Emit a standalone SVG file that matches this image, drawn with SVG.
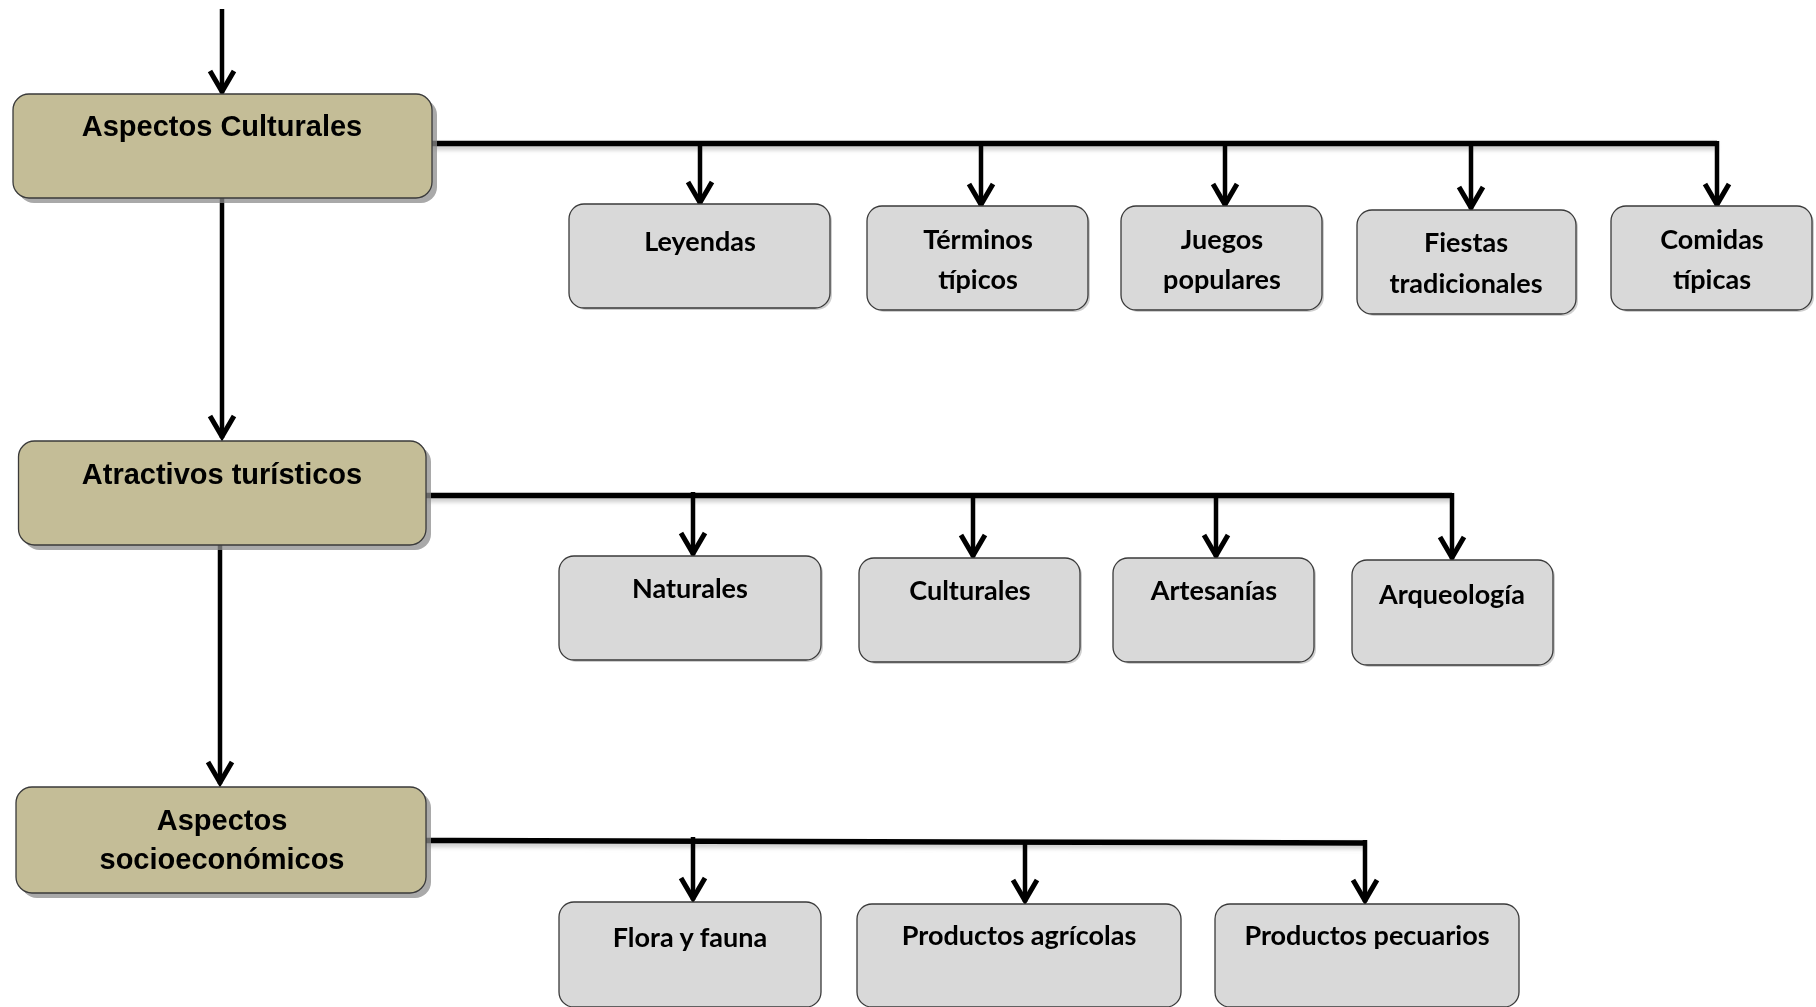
<svg xmlns="http://www.w3.org/2000/svg" width="1816" height="1007" viewBox="0 0 1816 1007">
<style>
.main{fill:#C4BD97;stroke:#3a3a3a;stroke-width:1.3}
.sub{fill:#D9D9D9;stroke:#3a3a3a;stroke-width:1.3}
.shadow{fill:#8c8c8c;opacity:0.75}
.sshadow{fill:#a0a0a0;opacity:0.5}
.ht{font-family:"Liberation Sans",Arial,sans-serif;font-weight:bold;font-size:29px;fill:#000;text-anchor:middle}
.st{font-family:Lato,"Open Sans",sans-serif;font-weight:bold;font-size:27px;fill:#000;text-anchor:middle}
.bus{fill:none;stroke:#000;stroke-width:5.5}
.drop{fill:none;stroke:#000;stroke-width:4.5}
.busShadow{fill:none;stroke:#9a9a9a;stroke-width:6;opacity:0.5}
</style>
<defs>
<marker id="arr" markerUnits="userSpaceOnUse" markerWidth="34" markerHeight="34" viewBox="-28 -17 34 34" refX="0" refY="0" orient="auto">
<path d="M-22,-12 L-1.5,0 L-22,12" fill="none" stroke="#000" stroke-width="5" stroke-linejoin="miter"/>
</marker>
<filter id="blur" x="-5%" y="-20%" width="110%" height="140%"><feGaussianBlur stdDeviation="2"/></filter>
</defs>

<g id="connectors">
<g filter="url(#blur)">
<path class="busShadow" d="M432,147 H1717"/>
<path class="busShadow" d="M426,499 H1452"/>
<path class="busShadow" d="M426,844 L1365,846"/>
</g>
<path class="drop" d="M222,9 V93" marker-end="url(#arr)"/>
<path class="drop" d="M222,198 V438" marker-end="url(#arr)"/>
<path class="drop" d="M220,545 V784" marker-end="url(#arr)"/>
<path class="bus" d="M432,143.5 H1717"/>
<path class="drop" d="M700,143 V204" marker-end="url(#arr)"/>
<path class="drop" d="M981,143 V206" marker-end="url(#arr)"/>
<path class="drop" d="M1225,143 V206" marker-end="url(#arr)"/>
<path class="drop" d="M1471,143 V209" marker-end="url(#arr)"/>
<path class="drop" d="M1717,141 V206" marker-end="url(#arr)"/>
<path class="bus" d="M426,495.5 H1452"/>
<path class="drop" d="M693,492 V555" marker-end="url(#arr)"/>
<path class="drop" d="M973,495 V557" marker-end="url(#arr)"/>
<path class="drop" d="M1216,495 V557" marker-end="url(#arr)"/>
<path class="drop" d="M1452,493 V559" marker-end="url(#arr)"/>
<path class="bus" d="M426,840.5 L1365,843"/>
<path class="drop" d="M693,837 V900" marker-end="url(#arr)"/>
<path class="drop" d="M1025,842 V902" marker-end="url(#arr)"/>
<path class="drop" d="M1365,840 V902" marker-end="url(#arr)"/>
</g>

<g id="aspectos-culturales">
<rect class="shadow" x="18" y="99" width="419" height="104" rx="16"/>
<rect class="main" x="13" y="94" width="419" height="104" rx="16"/>
<text class="ht" x="222" y="136">Aspectos Culturales</text>
</g>

<g id="atractivos-turisticos">
<rect class="shadow" x="23.5" y="446" width="407.5" height="104" rx="16"/>
<rect class="main" x="18.5" y="441" width="407.5" height="104" rx="16"/>
<text class="ht" x="222" y="484">Atractivos turísticos</text>
</g>

<g id="aspectos-socioeconomicos">
<rect class="shadow" x="21" y="792" width="410" height="106" rx="16"/>
<rect class="main" x="16" y="787" width="410" height="106" rx="16"/>
<text class="ht" x="222" y="830">Aspectos</text>
<text class="ht" x="222" y="869">socioeconómicos</text>
</g>

<g id="leyendas">
<rect class="sshadow" x="571" y="206" width="261" height="104" rx="15"/>
<rect class="sub" x="569" y="204" width="261" height="104" rx="15"/>
<text class="st" x="700" y="251">Leyendas</text>
</g>
<g id="terminos-tipicos">
<rect class="sshadow" x="869" y="208" width="221" height="104" rx="15"/>
<rect class="sub" x="867" y="206" width="221" height="104" rx="15"/>
<text class="st" x="978" y="249">Términos</text>
<text class="st" x="978" y="289">típicos</text>
</g>
<g id="juegos-populares">
<rect class="sshadow" x="1123" y="208" width="201" height="104" rx="15"/>
<rect class="sub" x="1121" y="206" width="201" height="104" rx="15"/>
<text class="st" x="1222" y="249">Juegos</text>
<text class="st" x="1222" y="289">populares</text>
</g>
<g id="fiestas-tradicionales">
<rect class="sshadow" x="1359" y="212" width="219" height="104" rx="15"/>
<rect class="sub" x="1357" y="210" width="219" height="104" rx="15"/>
<text class="st" x="1466" y="252">Fiestas</text>
<text class="st" x="1466" y="293">tradicionales</text>
</g>
<g id="comidas-tipicas">
<rect class="sshadow" x="1613" y="208" width="201" height="104" rx="15"/>
<rect class="sub" x="1611" y="206" width="201" height="104" rx="15"/>
<text class="st" x="1712" y="249">Comidas</text>
<text class="st" x="1712" y="289">típicas</text>
</g>

<g id="naturales">
<rect class="sshadow" x="561" y="558" width="262" height="104" rx="15"/>
<rect class="sub" x="559" y="556" width="262" height="104" rx="15"/>
<text class="st" x="690" y="598">Naturales</text>
</g>
<g id="culturales">
<rect class="sshadow" x="861" y="560" width="221" height="104" rx="15"/>
<rect class="sub" x="859" y="558" width="221" height="104" rx="15"/>
<text class="st" x="970" y="600">Culturales</text>
</g>
<g id="artesanias">
<rect class="sshadow" x="1115" y="560" width="201" height="104" rx="15"/>
<rect class="sub" x="1113" y="558" width="201" height="104" rx="15"/>
<text class="st" x="1214" y="600">Artesanías</text>
</g>
<g id="arqueologia">
<rect class="sshadow" x="1354" y="562" width="201" height="105" rx="15"/>
<rect class="sub" x="1352" y="560" width="201" height="105" rx="15"/>
<text class="st" x="1452" y="604">Arqueología</text>
</g>

<g id="flora-y-fauna">
<rect class="sub" x="559" y="902" width="262" height="105" rx="15"/>
<text class="st" x="690" y="947">Flora y fauna</text>
</g>
<g id="productos-agricolas">
<rect class="sub" x="857" y="904" width="324" height="103" rx="15"/>
<text class="st" x="1019" y="945">Productos agrícolas</text>
</g>
<g id="productos-pecuarios">
<rect class="sub" x="1215" y="904" width="304" height="103" rx="15"/>
<text class="st" x="1367" y="945">Productos pecuarios</text>
</g>
</svg>
